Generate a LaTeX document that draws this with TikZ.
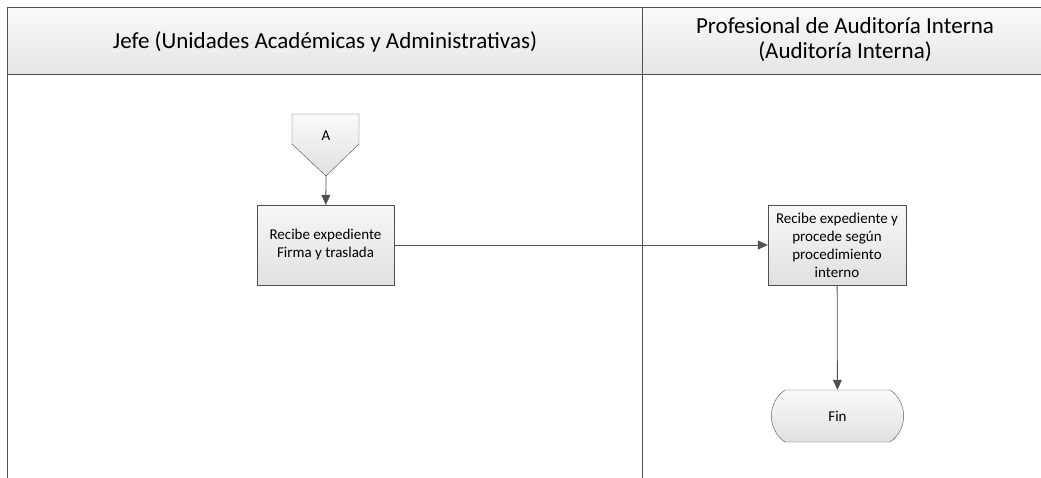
\documentclass[tikz,border=0pt]{standalone}
\usepackage{fontspec}
\setmainfont{Carlito}
\usetikzlibrary{shapes.misc,arrows.meta}
\definecolor{linegray}{HTML}{505050}
\tikzset{
  proc/.style={draw=linegray, top color=white!97!black, bottom color=white!88!black,
    minimum width=137pt, minimum height=80pt, align=center, font=\fontsize{15}{18}\selectfont},
  term/.style={draw=linegray, rounded rectangle, rounded rectangle arc length=110,
    top color=white!98!black, bottom color=white!88!black,
    minimum width=139pt, minimum height=52pt, font=\fontsize{15}{18}\selectfont},
  flow/.style={draw=linegray, thick, -{Triangle[length=10pt,width=9pt]}},
  lanehead/.style={align=center, font=\fontsize{23}{25}\selectfont}
}
\begin{document}
\begin{tikzpicture}[x=1pt,y=-1pt]
\useasboundingbox (0,0) rectangle (1041,478);
% lanes
\shade[top color=white!98!black, bottom color=white!90!black] (7,7) rectangle (1041,74);
\draw[linegray, thick] (7,478)--(7,7)--(1041,7) (7,74)--(1041,74) (642,7)--(642,478);
\node[lanehead] (jefe) at (325,42) {Jefe (Unidades Académicas y Administrativas)};
\node[lanehead] (audit) at (845,40) {Profesional de Auditoría Interna\\(Auditoría Interna)};
% connector A
\coordinate (atip) at (326,176);
\draw[draw=linegray, top color=white!98!black, bottom color=white!88!black]
  (292,114)--(359,114)--(359,144)--(atip)--(292,144)--cycle;
\node[font=\fontsize{15}{18}\selectfont] (a) at (326,136) {A};
% steps
\node[proc] (recibe) at (325.5,245) {Recibe expediente\\Firma y traslada};
\node[proc, minimum width=138pt] (procede) at (837,245) {Recibe expediente y\\procede según\\procedimiento\\interno};
\node[term] (fin) at (837.5,416) {Fin};
\draw[flow] (atip) -- (recibe);
\draw[flow] (recibe) -- (procede);
\draw[flow] (procede) -- (fin);
\end{tikzpicture}
\end{document}
